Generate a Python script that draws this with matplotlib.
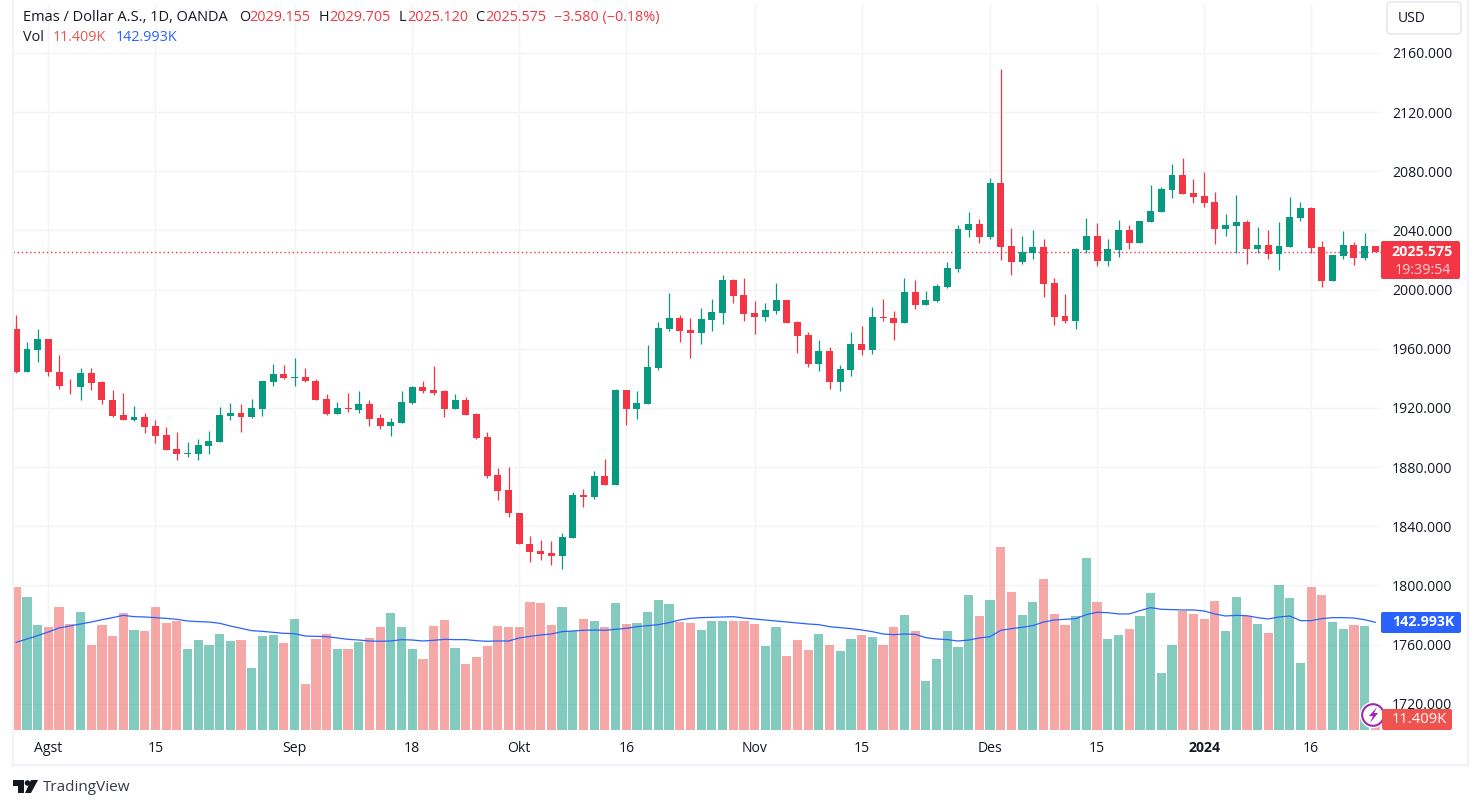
import matplotlib
matplotlib.use('Agg')
import matplotlib.pyplot as plt
from matplotlib.patches import FancyBboxPatch, Circle, Polygon

plt.rcParams['font.family'] = ['Open Sans', 'DejaVu Sans']

# daily candles
opens = [1973.1, 1944.6, 1958.9, 1966.3, 1944.6, 1935.1, 1933.8, 1943.3, 1937.2, 1925.6,
         1915.5, 1912.1, 1914.1, 1908.0, 1901.9, 1892.4, 1889.0, 1889.0, 1894.5, 1897.2,
         1914.8, 1916.8, 1914.1, 1919.5, 1937.2, 1942.6, 1939.9, 1940.6, 1938.5, 1926.3,
         1916.2, 1920.2, 1918.9, 1922.9, 1913.4, 1908.0, 1910.1, 1923.6, 1933.8, 1931.8,
         1931.1, 1919.5, 1925.6, 1916.2, 1900.5, 1874.8, 1864.7, 1849.2, 1828.3, 1822.9,
         1821.6, 1819.6, 1831.7, 1861.4, 1860.0, 1874.2, 1868.1, 1932.1, 1919.3, 1922.7,
         1947.0, 1973.3, 1980.7, 1972.6, 1970.6, 1979.3, 1984.0, 2006.3, 1996.2, 1984.0,
         1981.3, 1985.4, 1992.8, 1978.0, 1969.2, 1949.7, 1958.4, 1937.5, 1945.6, 1963.1,
         1959.1, 1981.3, 1980.7, 1977.3, 1998.2, 1989.4, 1992.1, 2001.6, 2013.7, 2040.2,
         2044.3, 2035.5, 2072.1, 2029.4, 2018.5, 2024.6, 2028.7, 2004.3, 1981.9, 1978.5,
         2026.7, 2036.2, 2019.2, 2026.7, 2040.2, 2031.4, 2045.7, 2052.4, 2067.3, 2077.5,
         2065.3, 2063.3, 2059.2, 2040.9, 2042.9, 2045.7, 2027.3, 2030.1, 2024.0, 2028.7,
         2048.4, 2055.1, 2028.7, 2005.7, 2022.6, 2030.1, 2021.2, 2029.155]
highs = [1982.6, 1964.3, 1973.1, 1966.3, 1955.5, 1939.2, 1947.3, 1947.3, 1938.5, 1932.4,
         1930.4, 1921.6, 1916.8, 1912.1, 1907.3, 1904.0, 1897.2, 1899.2, 1904.6, 1920.9,
         1923.6, 1922.9, 1926.3, 1938.5, 1949.4, 1948.7, 1953.4, 1946.7, 1939.2, 1929.7,
         1924.3, 1930.4, 1931.1, 1925.0, 1916.2, 1913.4, 1931.1, 1934.5, 1937.9, 1948.0,
         1931.8, 1929.7, 1927.7, 1916.8, 1903.8, 1879.6, 1880.2, 1849.2, 1833.7, 1831.0,
         1829.7, 1835.1, 1863.4, 1865.4, 1877.5, 1885.6, 1932.8, 1932.1, 1931.5, 1962.5,
         1978.0, 1997.5, 1982.7, 1980.7, 1987.4, 1993.5, 2009.7, 2007.0, 2007.6, 1992.1,
         1990.8, 2004.3, 1992.8, 1978.7, 1971.2, 1965.8, 1961.1, 1949.0, 1971.2, 1975.3,
         1988.1, 1993.5, 1985.4, 2007.6, 2006.3, 1998.9, 2003.6, 2018.4, 2043.6, 2052.4,
         2047.7, 2075.5, 2149.4, 2041.6, 2036.2, 2040.2, 2034.1, 2007.7, 1996.8, 2028.0,
         2048.4, 2045.0, 2034.1, 2047.0, 2043.6, 2046.3, 2070.7, 2069.4, 2085.0, 2089.0,
         2074.8, 2079.6, 2066.0, 2051.1, 2064.0, 2047.0, 2042.3, 2040.2, 2045.7, 2062.6,
         2059.2, 2055.8, 2032.8, 2023.3, 2039.6, 2032.1, 2038.2, 2029.705]
lows = [1943.3, 1944.6, 1950.7, 1941.9, 1933.1, 1929.7, 1925.0, 1931.8, 1922.9, 1914.1,
        1912.1, 1911.4, 1903.3, 1896.5, 1891.7, 1885.0, 1887.0, 1885.0, 1889.0, 1897.2,
        1912.1, 1904.0, 1913.4, 1914.8, 1935.1, 1939.2, 1935.1, 1937.2, 1925.6, 1915.5,
        1916.2, 1917.5, 1916.8, 1908.0, 1906.0, 1901.2, 1910.1, 1922.9, 1930.4, 1928.4,
        1914.1, 1919.5, 1915.5, 1899.2, 1872.8, 1858.0, 1846.5, 1827.7, 1815.5, 1816.9,
        1813.5, 1810.8, 1831.7, 1853.3, 1858.7, 1868.1, 1868.1, 1908.5, 1912.6, 1922.7,
        1945.6, 1971.9, 1964.5, 1953.7, 1963.1, 1971.9, 1976.6, 1990.8, 1978.7, 1969.9,
        1978.7, 1983.4, 1977.3, 1957.1, 1947.6, 1944.9, 1932.8, 1931.5, 1941.6, 1955.7,
        1956.4, 1978.7, 1965.8, 1977.3, 1986.7, 1989.4, 1991.5, 2000.9, 2011.7, 2035.5,
        2031.4, 2034.1, 2019.9, 2009.7, 2017.2, 2020.6, 1994.8, 1975.8, 1977.2, 1973.1,
        2024.6, 2015.8, 2015.8, 2021.9, 2027.3, 2031.4, 2045.7, 2052.4, 2061.9, 2064.6,
        2058.5, 2055.8, 2030.7, 2036.2, 2024.6, 2017.2, 2024.6, 2020.6, 2013.1, 2028.7,
        2046.3, 2024.6, 2001.6, 2005.7, 2020.6, 2016.5, 2019.9, 2025.120]
closes = [1944.6, 1959.5, 1966.3, 1944.0, 1934.5, 1934.5, 1943.3, 1936.5, 1925.0, 1914.8,
          1912.1, 1914.1, 1907.3, 1901.2, 1891.7, 1889.0, 1889.7, 1895.1, 1897.9, 1915.5,
          1916.8, 1914.1, 1920.2, 1937.9, 1942.6, 1939.9, 1940.6, 1937.9, 1925.6, 1916.2,
          1920.2, 1919.5, 1922.9, 1912.8, 1908.0, 1910.7, 1924.3, 1933.8, 1931.1, 1930.4,
          1919.5, 1925.6, 1915.5, 1899.9, 1874.2, 1864.1, 1848.6, 1827.7, 1822.3, 1820.9,
          1819.6, 1832.4, 1861.4, 1860.0, 1874.2, 1868.1, 1932.1, 1919.3, 1923.4, 1947.6,
          1973.9, 1980.7, 1971.9, 1970.6, 1980.0, 1984.7, 2006.3, 1995.5, 1983.4, 1981.3,
          1986.1, 1992.8, 1977.3, 1968.5, 1949.7, 1958.4, 1937.5, 1946.3, 1963.1, 1959.1,
          1981.3, 1980.7, 1977.3, 1998.2, 1989.4, 1992.8, 2002.2, 2014.4, 2040.9, 2044.3,
          2035.5, 2072.1, 2028.7, 2018.5, 2025.3, 2028.7, 2003.6, 1981.2, 1978.5, 2027.3,
          2036.2, 2019.2, 2027.3, 2040.2, 2031.4, 2046.3, 2053.1, 2068.0, 2077.5, 2064.6,
          2062.6, 2058.5, 2040.9, 2043.6, 2045.7, 2027.3, 2030.1, 2024.0, 2029.4, 2049.0,
          2055.1, 2028.0, 2005.7, 2023.3, 2030.1, 2021.2, 2029.4, 2025.575]

# volume in thousands
volumes = [189.9, 176.6, 139.5, 136.8, 163.4, 140.8, 156.7, 112.9, 139.5, 124.8,
           155.4, 132.8, 131.5, 163.4, 142.1, 144.8, 107.6, 119.5, 112.9, 127.5,
           118.2, 119.5, 82.3, 124.8, 126.2, 115.5, 147.4, 61.1, 120.9, 127.5,
           107.6, 107.6, 116.9, 122.2, 136.8, 155.4, 136.8, 107.6, 94.3, 138.1,
           146.1, 108.9, 87.7, 97.0, 111.6, 138.1, 136.8, 136.8, 170.0, 168.7,
           139.5, 163.4, 131.5, 147.4, 144.8, 136.8, 168.7, 140.8, 142.1, 156.7,
           172.7, 167.3, 143.4, 142.1, 132.8, 144.8, 144.8, 144.8, 144.8, 140.8,
           111.6, 136.8, 98.3, 119.5, 106.2, 127.5, 112.9, 104.9, 120.9, 126.2,
           123.5, 112.9, 136.8, 152.7, 131.5, 65.1, 94.3, 131.5, 110.2, 179.3,
           151.4, 172.7, 243.0, 183.3, 152.7, 170.0, 200.5, 154.1, 139.5, 151.4,
           228.4, 170.0, 120.9, 126.2, 134.1, 151.4, 181.9, 75.7, 112.9, 158.0,
           154.1, 147.4, 171.3, 131.5, 176.6, 151.4, 140.8, 128.8, 192.6, 175.3,
           89.0, 189.9, 179.3, 143.4, 134.1, 139.5, 138.1, 11.409]
volume_ma = [116.4, 120.9, 125.3, 130.2, 135.5, 138.1, 140.8, 143.4, 146.5, 149.2,
             152.3, 150.5, 150.1, 149.2, 148.3, 147.0, 144.8, 143.9, 143.4, 141.7,
             138.1, 135.0, 131.9, 131.0, 129.7, 128.4, 127.9, 124.8, 124.4, 124.0,
             122.2, 120.4, 119.5, 118.2, 117.8, 118.2, 120.0, 119.5, 118.2, 119.1,
             120.4, 120.0, 120.0, 118.6, 117.8, 118.2, 118.2, 122.2, 124.4, 126.2,
             127.5, 130.6, 131.5, 132.4, 132.8, 132.4, 133.7, 135.0, 137.2, 138.6,
             139.9, 142.5, 146.1, 148.3, 149.2, 149.6, 150.1, 150.5, 148.7, 147.4,
             146.1, 144.8, 143.4, 142.1, 140.8, 139.9, 137.2, 135.9, 134.6, 132.8,
             130.6, 127.5, 126.6, 127.5, 127.1, 122.6, 120.9, 120.0, 118.2, 119.5,
             122.2, 124.0, 132.4, 134.6, 136.4, 138.6, 143.4, 146.1, 147.0, 147.9,
             153.2, 156.3, 155.8, 154.1, 154.1, 158.5, 162.5, 160.3, 159.8, 159.4,
             159.4, 158.0, 154.1, 151.4, 152.3, 151.8, 149.2, 147.4, 150.1, 151.4,
             145.2, 145.2, 147.9, 149.2, 149.2, 148.7, 146.5, 142.993]

time_ticks = [3, 13, 26, 37, 47, 57, 69, 79, 91, 101, 111, 121]
time_labels = ['Agst', '15', 'Sep', '18', 'Okt', '16', 'Nov', '15', 'Des', '15', '2024', '16']
price_ticks = [1720, 1760, 1800, 1840, 1880, 1920, 1960, 2000, 2040, 2080, 2120, 2160]

GREEN = '#089981'
RED = '#F23645'
VOL_RED = '#EF5350'
BLUE = '#2962FF'
GRID = '#F3F4F6'
FRAME = '#F0F3FA'
TEXT = '#131722'
W, H = 1480, 809

fig = plt.figure(figsize=(W / 100, H / 100), dpi=100, facecolor='white')
ax = fig.add_axes([13 / W, 1 - 730 / H, 1368 / W, 726 / H])
ax.set_xlim(-0.308, 127.53)
ax.set_ylim(1702.2, 2193.1)

xs = list(range(len(opens)))
up = [c >= o for o, c in zip(opens, closes)]

# volume pane shares the x axis, its scale sits on its own
ax_vol = ax.twinx()
ax_vol.set_ylim(0, 964.1)
ax_vol.set_yticks([])
for s in list(ax.spines.values()) + list(ax_vol.spines.values()):
    s.set_visible(False)
ax_vol.bar(xs, volumes, width=0.86, alpha=0.5, linewidth=0,
           color=[GREEN if u else VOL_RED for u in up])
ax_vol.plot(xs, volume_ma, color=BLUE, lw=0.9)

ax.set_axisbelow(True)
ax.grid(True, color=GRID, lw=1)
ax.yaxis.tick_right()
ax.set_yticks(price_ticks)
ax.set_yticklabels(['%.3f' % p for p in price_ticks])
ax.set_xticks(time_ticks)
ax.set_xticklabels(time_labels)
ax.tick_params(axis='y', length=0, pad=8, labelsize=10.1, labelcolor=TEXT)
ax.tick_params(axis='x', length=0, pad=8, labelsize=10.1, labelcolor=TEXT)
ax.get_xticklabels()[time_labels.index('2024')].set_fontweight('bold')

# candles
candle_colors = [GREEN if u else RED for u in up]
ax.axhline(closes[-1], color=RED, lw=1, ls=(0, (1, 2)), zorder=1)
ax.vlines(xs, lows, highs, color=candle_colors, lw=0.9, zorder=3)
ax.bar(xs, [abs(c - o) for o, c in zip(opens, closes)],
       bottom=[min(o, c) for o, c in zip(opens, closes)],
       width=0.65, color=candle_colors, linewidth=0, zorder=4)

# everything around the plot, placed in pixels
deco = fig.add_axes([0, 0, 1, 1], zorder=10)
deco.set_xlim(0, W)
deco.set_ylim(H, 0)
deco.axis('off')
deco.plot([13, 13], [0, 766], color=FRAME, lw=1.6)
deco.plot([13, 1468], [765, 765], color=FRAME, lw=1.6)
deco.plot([1468, 1468], [0, 766], color=FRAME, lw=1.6)


def tag(x0, y0, x1, y1, color):
    deco.add_patch(FancyBboxPatch((x0, y0), x1 - x0, y1 - y0, boxstyle='round,pad=0,rounding_size=2',
                                  fc=color, ec='none'))


def legend_text(x, y, s, color=TEXT, size=10.4):
    deco.text(x, y, s, color=color, fontsize=size, va='center', ha='left')


legend_text(23, 17, 'Emas / Dollar A.S., 1D, OANDA', size=10.5)
for x, label, value in [(239, 'O', '2029.155'), (319, 'H', '2029.705'),
                        (399, 'L', '2025.120'), (475, 'C', '2025.575')]:
    legend_text(x, 17, label)
    legend_text(x + (10 if label != 'L' else 8), 17, value, RED)
legend_text(554, 17, '\u22123.580 (\u22120.18%)', RED)
legend_text(23, 37, 'Vol')
legend_text(53, 37, '11.409K', VOL_RED)
legend_text(116, 37, '142.993K', BLUE)

# currency button
deco.add_patch(FancyBboxPatch((1387, 2), 74, 32, boxstyle='round,pad=0,rounding_size=4',
                              fc='white', ec='#E0E3EB', lw=0.9))
deco.text(1398, 18, 'USD', color=TEXT, fontsize=10, va='center', ha='left')

# price and volume tags on the right scale
tag(1381, 241, 1460, 279, RED)
deco.text(1422.5, 252, '2025.575', color='white', fontsize=10.3, fontweight='bold', va='center', ha='center')
deco.text(1422.5, 270, '19:39:54', color='#FFD0D4', fontsize=10.3, va='center', ha='center')
tag(1381, 612, 1461, 633, BLUE)
deco.text(1423, 622.5, '142.993K', color='white', fontsize=10.3, fontweight='bold', va='center', ha='center')

# lightning badge sits under the volume tag
deco.add_patch(Circle((1373, 715), 13.2, fc='white', ec='none'))
deco.add_patch(Circle((1373, 715), 10.8, fc='white', ec='#9C27B0', lw=1.5))
deco.add_patch(Polygon([(1377, 707), (1369, 716), (1373, 716), (1370, 723), (1378, 713), (1374, 713)],
                       fc='#9C27B0', ec='none'))
tag(1382, 709, 1452, 730, VOL_RED)
deco.text(1419, 719.5, '11.409K', color='white', fontsize=10.6, va='center', ha='center')

# TradingView logo
deco.add_patch(Polygon([(13, 780), (24, 780), (24, 793), (18, 793), (18, 786), (13, 786)], fc='#131722', ec='none'))
deco.add_patch(Circle((27.5, 783), 2.8, fc='#131722', ec='none'))
deco.add_patch(Polygon([(31, 780), (38, 780), (31, 793), (25, 793)], fc='#131722', ec='none'))
deco.text(43, 787.5, 'TradingView', color='#363A45', fontsize=11, va='center', ha='left')

fig.savefig('out.png', dpi=100, facecolor='white')
